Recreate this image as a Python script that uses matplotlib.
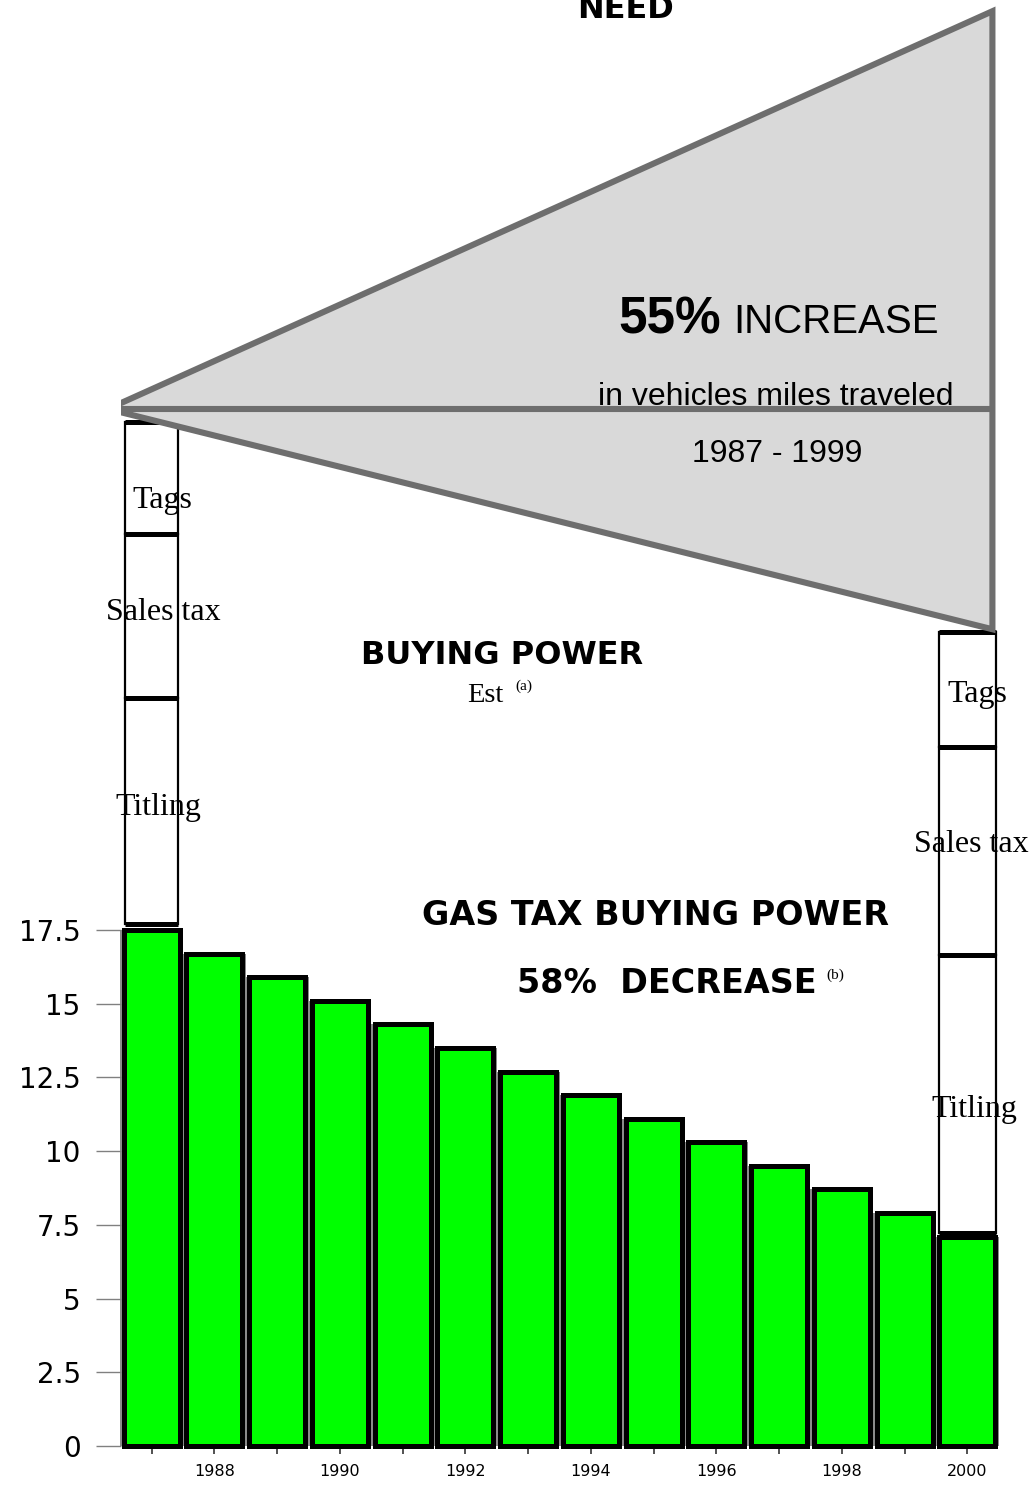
import matplotlib
matplotlib.use("Agg")
import matplotlib.pyplot as plt
from matplotlib.patches import Polygon

# ---------------- data ----------------
years = list(range(1987, 2001))
buying_power = [17.5, 16.7, 15.9, 15.1, 14.3, 13.5, 12.7, 11.9, 11.1, 10.3, 9.5, 8.7, 7.9, 7.1]
ytick_vals = [0, 2.5, 5, 7.5, 10, 12.5, 15, 17.5]
ytick_labels = ['0', '2.5', '5', '7.5', '10', '12.5', '15', '17.5']
xtick_labels = [str(y) if y % 2 == 0 else '' for y in years]

fee_labels = ['Titling', 'Sales tax', 'Tags']
stack_years = [1987, 2000]
stack_bases = [17.7, 7.22]
fees_1987 = [7.67, 5.56, 3.8]
fees_2000 = [9.43, 7.06, 3.9]

# need triangle (in chart units)
need_apex = (1986.30, 35.17)
need_top = (2000.40, 48.66)
need_bottom = (2000.40, 27.70)

# ---------------- pixel helpers for annotation placement ----------------
W, H = 1029, 1490
XP0, XS = 151.7, 62.74
YP0, YS = 1446.0, 516.0 / 17.5


def dx(p):
    return 1987 + (p - XP0) / XS


def dy(q):
    return (YP0 - q) / YS


fig = plt.figure(figsize=(W / 100, H / 100), dpi=100)
ax = fig.add_axes([121 / W, (H - 1446) / H, (W - 121) / W, 1446 / H])
ax.set_xlim(dx(121), dx(W))
ax.set_ylim(0, dy(0))
for s in ax.spines.values():
    s.set_visible(False)

# bars: grey underlay (gaps) then green bars with thick black edges
ax.bar(years, buying_power, width=1.0, color='#8a8a8a', edgecolor='none', zorder=1, clip_on=False)
ax.bar(years, buying_power, width=0.893, color='#00FF00', edgecolor='black', linewidth=3.6,
       zorder=2, clip_on=False)

# stacked fee boxes
for yr, base, fees, w in [(stack_years[0], stack_bases[0], fees_1987, 0.84),
                          (stack_years[1], stack_bases[1], fees_2000, 0.90)]:
    bottoms = [base]
    for f in fees[:-1]:
        bottoms.append(bottoms[-1] + f)
    ax.bar([yr] * len(fees), fees, bottom=bottoms, width=w, color='white',
           edgecolor='black', linewidth=1.6, zorder=3)
    levels = bottoms + [bottoms[-1] + fees[-1]]
    ax.hlines(levels, yr - w / 2, yr + w / 2, colors='black', linewidth=3.6, zorder=4)

# fee labels
serif = 'Liberation Serif'
label_pos = [
    (158, 815, 'Titling'), (163.5, 620, 'Sales tax'), (162, 508, 'Tags'),
    (974, 1117, 'Titling'), (971, 852, 'Sales tax'), (977.5, 702, 'Tags'),
]
for px, py, t in label_pos:
    ax.text(dx(px), dy(py), t, ha='center', va='baseline', fontsize=23,
            family=serif, zorder=6)

# need triangle
tri = Polygon([need_apex, need_top, need_bottom], closed=True, facecolor='#D9D9D9',
              edgecolor='#6E6E6E', linewidth=4.4, joinstyle='miter', zorder=5)
ax.add_patch(tri)
ax.plot([need_apex[0] - 0.2, need_top[0]], [need_apex[1], need_apex[1]], color='#6E6E6E',
        linewidth=4.4, zorder=7, solid_capstyle='butt')

# texts
sans = 'Liberation Sans'
wide = 'DejaVu Sans'
ax.text(dx(626), dy(18), 'NEED', ha='center', va='baseline', fontsize=23,
        fontweight='bold', family=wide, zorder=8)
ax.text(dx(618), dy(333), '55%', ha='left', va='baseline', fontsize=37,
        fontweight='bold', family=sans, zorder=8)
ax.text(dx(733), dy(333), 'INCREASE', ha='left', va='baseline', fontsize=29,
        family=sans, zorder=8)
ax.text(dx(775.5), dy(405), 'in vehicles miles traveled', ha='center', va='baseline',
        fontsize=23, family=sans, zorder=6)
ax.text(dx(777), dy(462), '1987 - 1999', ha='center', va='baseline', fontsize=23,
        family=sans, zorder=8)

ax.text(dx(502), dy(664), 'BUYING POWER', ha='center', va='baseline', fontsize=23,
        fontweight='bold', family=wide, zorder=8)
ax.text(dx(467), dy(702), 'Est', ha='left', va='baseline', fontsize=20.5,
        family=serif, zorder=8)
ax.text(dx(515), dy(690), '(a)', ha='left', va='baseline', fontsize=11,
        family=serif, zorder=8)

ax.text(dx(655), dy(925), 'GAS TAX BUYING POWER', ha='center', va='baseline', fontsize=24,
        fontweight='bold', family=wide, zorder=8)
ax.text(dx(517), dy(993), '58%  DECREASE', ha='left', va='baseline', fontsize=24,
        fontweight='bold', family=wide, zorder=8)
ax.text(dx(826), dy(979), '(b)', ha='left', va='baseline', fontsize=11,
        family=serif, zorder=8)

# axes ticks
ax.set_yticks(ytick_vals)
ax.set_yticklabels(ytick_labels, family=wide)
ax.tick_params(axis='y', length=18, width=1.0, color='#808080', pad=11, labelsize=20)
ax.set_xticks(years)
ax.set_xticklabels(xtick_labels, family=wide)
ax.tick_params(axis='x', length=6, width=1.2, color='#333333', pad=7, labelsize=11.5)

fig.savefig('out.png', dpi=100)
